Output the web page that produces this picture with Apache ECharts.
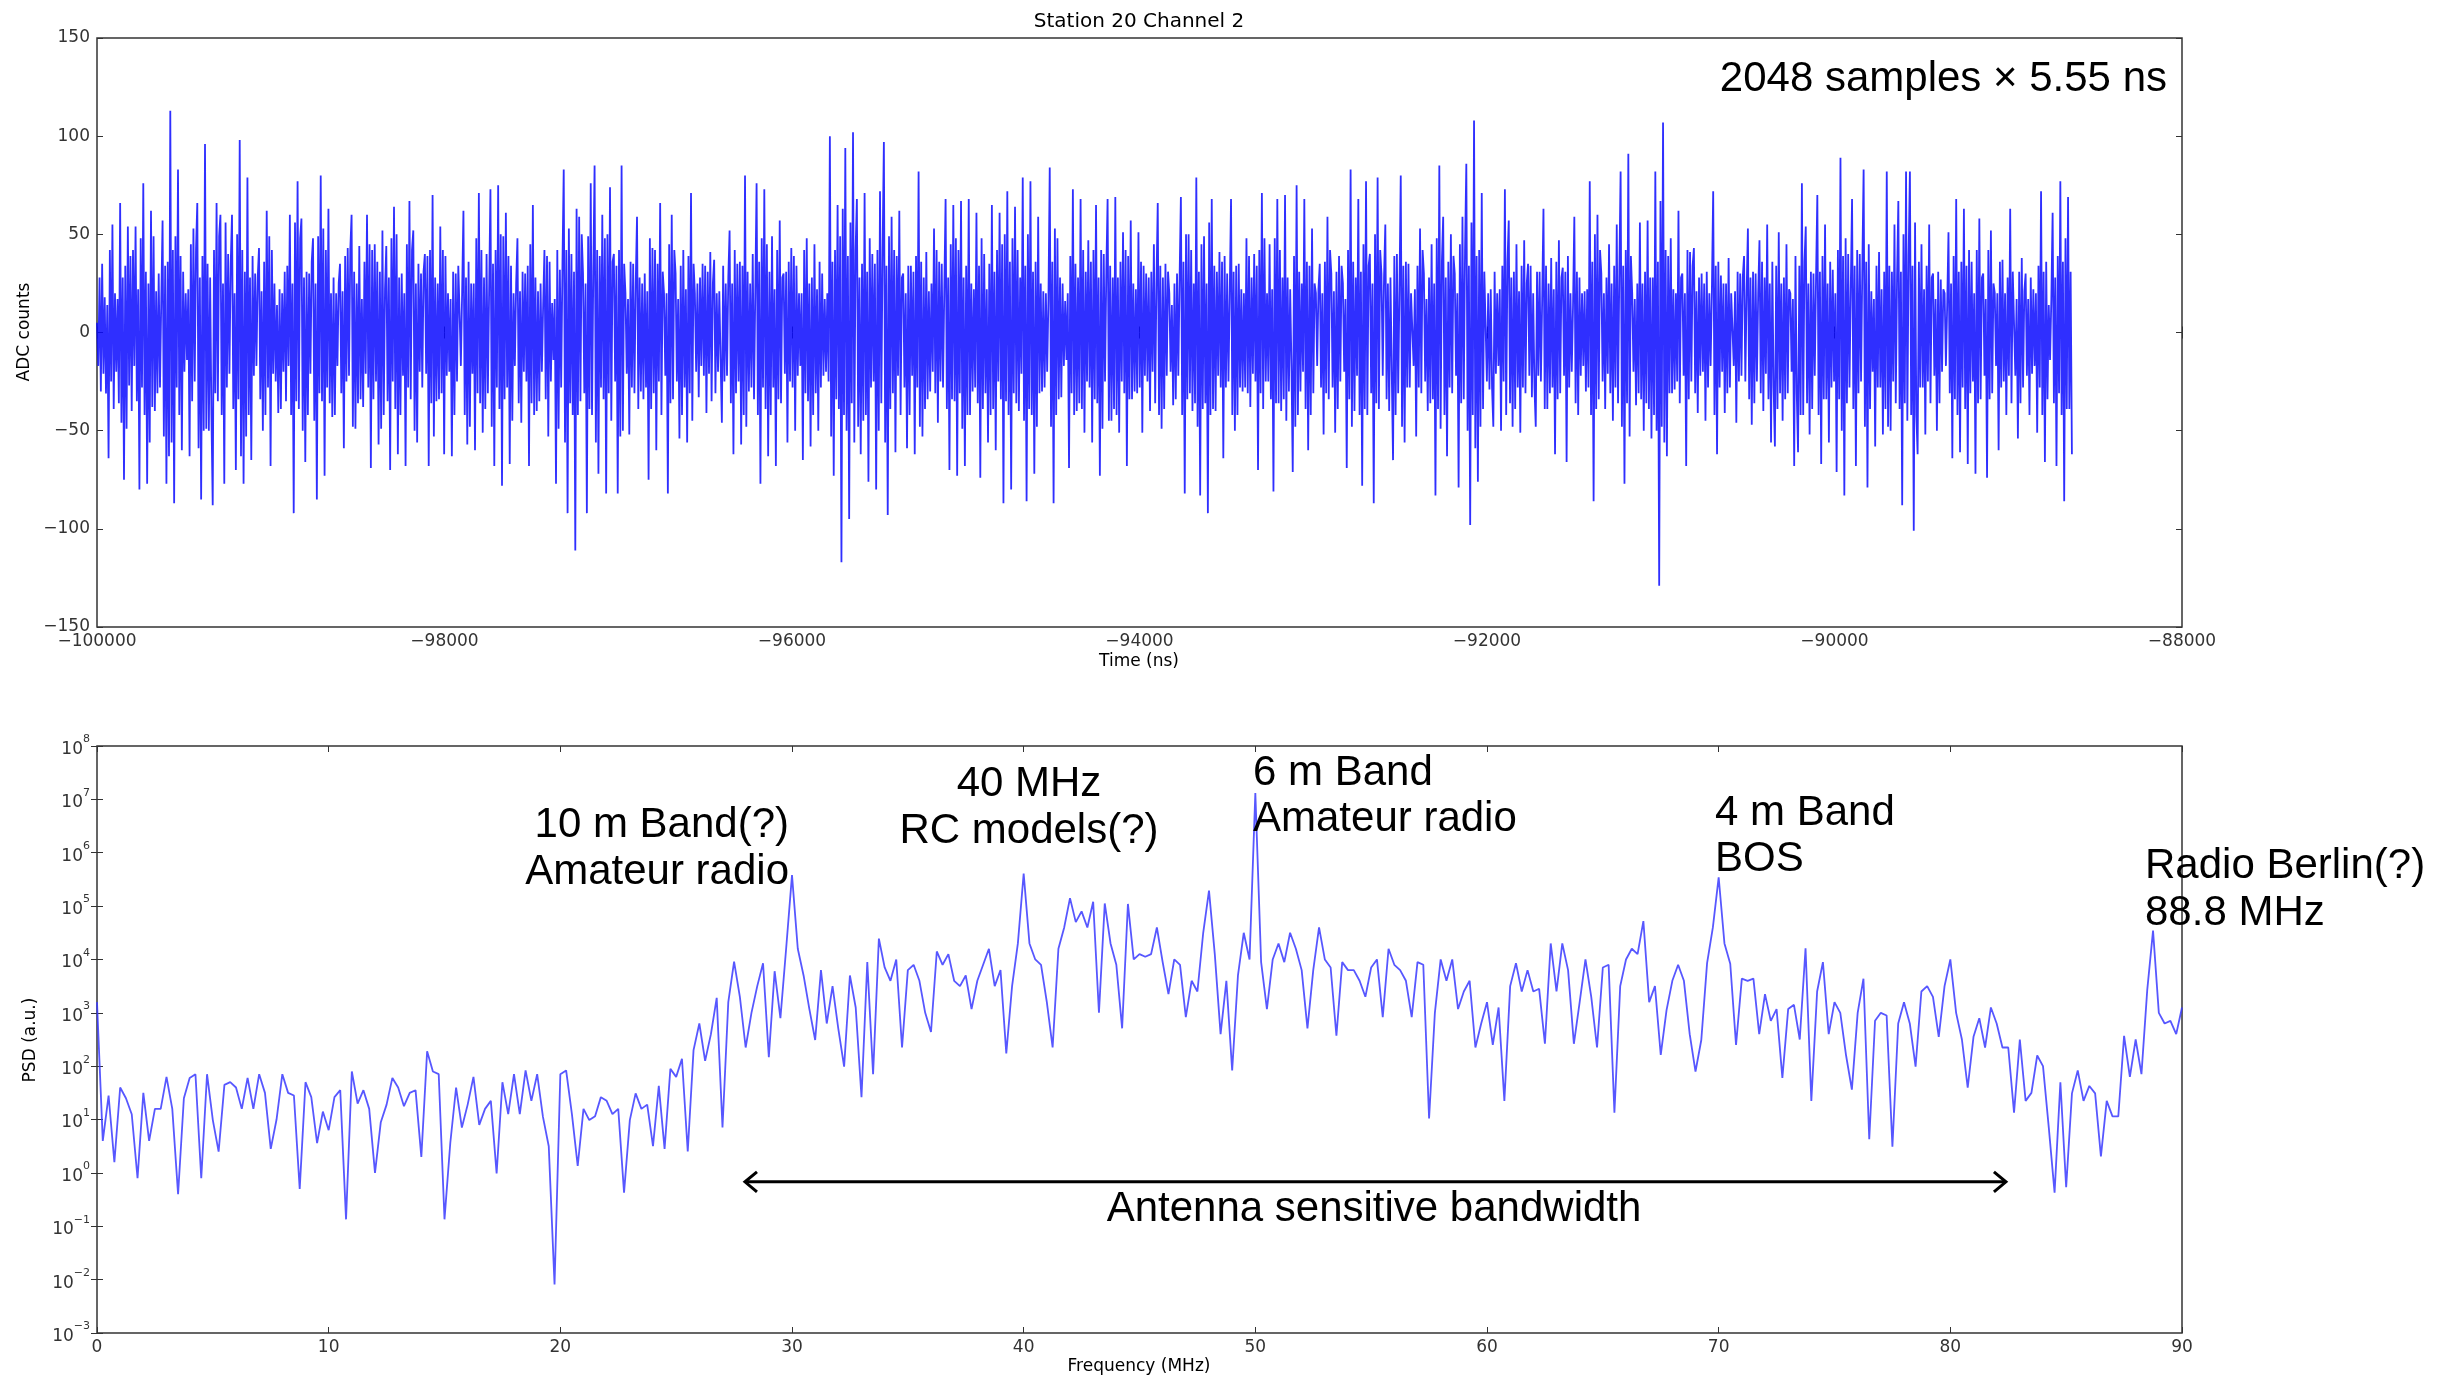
<!DOCTYPE html>
<html><head><meta charset="utf-8">
<script src="https://cdn.jsdelivr.net/npm/echarts@6/dist/echarts.min.js"></script>
<style>html,body{margin:0;padding:0;background:#fff}#c{width:2453px;height:1380px}</style>
</head><body><div id="c"></div>
<script>
// ---------------- DATA ----------------
const chartTitle = 'Station 20 Channel 2';
const timeStart = -100000;        // ns
const timeStep = 7.4;             // ns between plotted samples
const timeTicks = { min: -100000, max: -88000, step: 2000 };
const adcTicks = { min: -150, max: 150, step: 50 };
const adcCounts = [
 5,-17,28,-30,35,-21,18,-31,14,-64,42,-25,55,-39,20,-20,17,-36,66,-46,28,-75,34,-49,54,-27,39,-40,42,-17,
 54,-35,22,-80,48,-28,76,-42,31,-77,25,-56,62,-38,49,-40,21,-31,30,-28,17,57,-53,34,-77,36,-63,113,-56,42,
 -87,49,-28,83,-42,39,-60,31,-20,20,-14,22,-63,45,-35,53,-25,42,66,-59,28,-85,39,-50,96,-49,35,-50,28,-42,
 -88,42,-31,66,-35,49,60,-42,25,-77,56,-28,40,-21,35,60,-39,20,-70,50,-34,98,-63,42,-77,31,-53,79,-42,28,
 -65,39,-22,30,-17,28,43,-34,21,-50,36,-42,62,-28,49,-68,42,-21,25,-25,14,-41,22,-39,20,-20,31,-35,34,-17,
 60,-42,25,-92,56,-35,77,-39,48,58,-50,28,-66,31,-42,30,-21,36,48,-45,25,-85,49,-31,80,-35,53,-73,42,-28,
 63,-36,20,-43,28,-42,20,-17,25,35,-31,21,-59,39,-25,43,-22,42,60,-48,31,-49,25,-36,44,-34,17,-38,36,-21,
 60,-28,45,-69,42,-34,45,-25,36,-57,31,-49,52,-42,22,44,-35,28,-70,48,-25,64,-39,50,-62,28,-42,30,-22,20,
 -68,45,-28,67,-34,42,52,-50,25,-56,35,-20,30,-28,31,40,-21,39,-68,42,-36,70,-53,28,-35,25,-34,54,-31,42,
 -62,39,-22,20,-20,17,-63,31,-42,30,-25,34,10,-17,21,62,-42,28,-57,36,-48,25,-21,25,-60,48,-31,71,-36,42,
 -51,28,-39,40,-31,22,73,-48,35,-68,42,-28,75,-39,50,-78,49,-34,61,-28,39,-67,34,-45,20,-17,25,48,-36,21,
 -46,31,-20,30,-25,34,-68,45,-36,65,-42,28,-40,21,-35,25,-20,14,42,-34,39,-53,36,-25,15,-14,17,-77,42,-49,
 32,-28,34,83,-56,42,-92,53,-36,40,-42,31,-111,63,-42,59,-35,50,30,-31,25,-92,49,-39,76,-42,31,85,-56,42,
 -72,39,-28,60,-34,48,-82,50,-31,74,-45,36,40,-25,34,-82,42,-53,85,-50,35,20,-21,17,-52,36,-28,35,-31,25,
 59,-39,28,-30,25,-34,30,-28,21,-75,48,-39,43,-31,42,-60,35,-25,66,-42,31,20,-22,20,-82,45,-36,60,-34,42,
 30,-25,17,-54,34,-42,42,-28,22,-56,39,-31,71,-45,35,20,-20,25,-33,28,-17,35,-22,34,-41,31,-21,41,-35,25,
 37,-31,20,-20,21,-14,-46,34,-25,25,-22,28,52,-36,25,-62,42,-31,35,-25,36,-57,34,-42,80,-48,31,-30,25,-28,
 40,-34,21,76,-42,36,-77,48,-28,73,-39,45,-63,31,-42,49,-28,22,-68,42,-34,57,-36,28,30,-21,31,-56,36,-25,
 43,-28,39,-50,34,-22,20,-17,20,-65,42,-31,48,-35,25,-58,28,-42,45,-31,22,-50,36,-28,30,-22,17,-20,20,-25,
 100,-53,36,-73,42,-34,65,-39,49,-117,63,-42,94,-50,39,-95,56,-36,102,-56,42,68,-48,28,-62,35,-45,71,-42,31,
 -76,48,-28,40,-25,35,-80,42,-50,72,-36,42,97,-56,34,-93,49,-39,59,-31,42,-61,39,-22,62,-42,28,30,-28,20,
 -59,34,-42,34,-22,31,-62,39,-28,82,-48,36,-53,28,-39,41,-34,21,-30,25,-20,53,-31,42,-46,36,-25,35,-28,22,
 68,-39,28,-70,45,-34,65,-35,48,-73,42,-31,67,-49,28,-68,34,-42,68,-42,25,-30,22,-28,61,-36,34,-74,48,-39,
 40,-31,22,-56,35,-42,65,-39,31,-60,42,-25,61,-34,45,-87,50,-35,72,-42,36,-80,48,-31,64,-36,42,-40,28,-21,
 79,-45,34,-86,50,-39,77,-42,31,-72,36,-48,59,-31,25,-30,21,-28,20,-20,17,84,-48,36,-87,53,-42,48,-34,28,
 -33,25,-17,16,-14,20,-69,39,-31,73,-42,35,-40,28,-36,68,-39,42,-51,31,-25,47,-28,36,-56,42,-34,65,-36,28,
 -73,42,-49,40,-25,31,68,-45,34,-45,28,-39,69,-42,28,-51,36,-25,51,-31,42,-68,39,-34,57,-34,25,-30,22,-31,
 51,-28,36,-51,34,-22,30,-25,28,-40,31,-20,45,-36,25,66,-42,34,-49,28,-39,35,-22,31,20,-20,14,-37,25,-34,
 30,-22,28,69,-42,36,-82,50,-34,50,-31,42,-40,25,-36,79,-48,31,-83,45,-39,49,-36,25,-92,56,-42,68,-39,34,
 -40,31,-22,41,-28,36,-64,39,-28,30,-25,20,68,-42,31,-50,34,-42,35,-28,22,-30,20,-28,48,-31,39,-38,28,-21,
 40,-25,34,-70,42,-31,71,-39,48,-25,20,-25,45,-34,22,-81,48,-36,68,-36,42,-40,28,-34,70,-45,28,-30,22,-17,
 -71,39,-48,75,-42,31,-30,25,-20,68,-39,36,-60,34,-42,53,-31,25,20,-17,22,35,-28,20,-52,36,-31,59,-34,42,
 30,-28,21,-51,31,-39,39,-25,34,25,-20,17,-69,42,-34,83,-48,36,-40,28,-22,68,-42,31,-78,45,-39,77,-42,34,
 40,-31,25,-87,50,-36,79,-39,42,30,-22,28,55,-34,25,-40,28,-20,-65,39,-42,40,-31,22,80,-48,34,-56,36,-28,
 35,-28,20,20,-17,22,-53,34,-28,53,-31,42,30,-25,17,-40,28,-36,45,-34,25,-83,48,-39,85,-49,36,59,-42,28,
 -63,36,-28,50,-31,39,30,-22,20,-79,45,-36,59,-34,42,86,-50,34,-98,56,-42,108,-59,39,-76,42,-48,71,-39,31,
 32,-25,20,-29,22,-28,-48,31,-21,20,-17,22,-50,34,-25,73,-42,36,57,-36,28,-48,31,-39,45,-28,21,-51,34,-28,
 47,-31,25,35,-22,34,-33,20,-28,-48,31,-22,31,-25,17,63,-39,34,-39,25,-31,38,-28,22,-62,36,-34,47,-31,28,
 33,-22,31,-66,39,-28,20,-20,14,59,-36,31,-42,28,-22,20,-17,21,-30,22,-28,77,-42,36,-86,50,-39,60,-34,42,
 30,-25,20,-39,28,-21,45,-31,25,-45,34,-28,55,-36,31,82,-48,34,-77,42,-36,91,-53,39,20,-20,17,-37,25,-31,
 56,-34,25,-50,31,-36,57,-39,28,-54,28,-42,82,-50,36,-129,67,-48,107,-56,42,-63,39,-31,48,-31,22,-29,20,-25,
 62,-36,28,30,-22,20,-68,42,-34,41,-25,34,43,-31,21,-41,28,-22,30,-20,25,-45,31,-28,20,-17,22,72,-42,34,
 -62,36,-28,29,-20,25,-41,25,-31,38,-28,20,20,-17,21,-46,31,-25,30,-22,28,39,-25,20,53,-34,28,-47,31,-36,
 30,-25,20,47,-31,36,-40,28,-21,55,-34,25,-56,36,-28,-58,34,-39,51,-31,25,-45,28,-34,45,-31,22,20,-20,17,
 -68,39,-31,-61,34,-42,76,-42,36,54,-36,25,-52,31,-39,30,-22,28,70,-42,31,-67,39,-34,55,-34,25,-56,36,-28,
 32,-25,20,-71,42,-34,89,-50,39,-83,48,-36,40,-28,22,68,-39,34,-68,42,-31,40,-25,34,83,-48,36,-79,45,-39,
 21,-20,17,-58,34,-28,41,-28,22,-52,31,-39,82,-48,34,-50,31,-25,55,-36,28,67,-39,31,-88,50,-36,82,-45,39,
 82,-42,34,-101,56,-42,-62,36,-28,45,-28,22,-52,34,-25,55,-36,28,30,-22,17,-50,31,-36,27,-20,22,20,-17,14,
 51,-31,25,-64,39,-34,68,-42,31,-61,36,-28,63,-39,34,-67,42,-31,36,-25,20,-72,42,-36,58,-34,28,30,-22,17,
 -74,42,-34,52,-31,25,20,-17,20,-60,36,-28,37,-25,20,-42,28,-22,63,-36,31,30,-22,17,-54,31,-36,38,-28,21,
 30,-22,17,-42,28,-21,22,-17,20,-51,34,-28,72,-42,31,-66,36,-34,14,-14,17,61,-36,28,-68,39,-31,77,-42,36,
 -86,48,-39,69,-39,31,-62
];
const freqStep = 0.25;            // MHz between plotted PSD points
const freqTicks = { min: 0, max: 90, step: 10 };
const psdTicks = { min: 1e-3, max: 1e8 };
// PSD read as powers of ten (log10 of the a.u. value)
const psdLog10 = [
 3.2,0.6,1.45,0.2,1.6,1.4,1.1,-0.1,1.5,0.6,
 1.2,1.2,1.8,1.2,-0.4,1.4,1.78,1.85,-0.1,1.85,
 0.99,0.4,1.65,1.7,1.6,1.2,1.78,1.2,1.85,1.5,
 0.45,1.0,1.85,1.5,1.45,-0.3,1.7,1.42,0.56,1.15,
 0.8,1.42,1.55,-0.87,1.9,1.3,1.55,1.2,0.0,0.95,
 1.28,1.78,1.6,1.25,1.5,1.55,0.3,2.28,1.9,1.85,
 -0.87,0.56,1.6,0.85,1.28,1.8,0.9,1.2,1.35,-0.01,
 1.7,1.1,1.85,1.1,1.92,1.35,1.85,1.05,0.5,-2.09,
 1.85,1.92,1.1,0.13,1.2,0.99,1.06,1.42,1.35,1.1,
 1.2,-0.37,0.99,1.49,1.2,1.28,0.5,1.63,0.45,1.95,
 1.8,2.14,0.4,2.3,2.8,2.1,2.6,3.28,0.85,3.2,
 3.96,3.3,2.35,3.0,3.5,3.93,2.17,3.78,2.9,4.22,
 5.58,4.2,3.7,3.07,2.49,3.8,2.8,3.5,2.7,1.99,
 3.7,3.1,1.42,3.95,1.85,4.39,3.85,3.6,4.0,2.35,
 3.8,3.9,3.6,3.0,2.64,4.15,3.9,4.1,3.6,3.5,
 3.7,3.07,3.6,3.9,4.2,3.5,3.8,2.24,3.5,4.3,
 5.61,4.3,4.0,3.9,3.2,2.35,4.2,4.6,5.15,4.7,
 4.9,4.6,5.08,3.0,5.05,4.3,3.9,2.71,5.04,4.0,
 4.1,4.05,4.1,4.6,3.95,3.35,4.0,3.9,2.92,3.6,
 3.4,4.5,5.29,4.1,2.6,3.6,1.92,3.7,4.5,4.0,
 7.12,3.95,3.07,4.0,4.3,3.95,4.5,4.2,3.8,2.71,
 3.8,4.6,4.0,3.85,2.57,3.95,3.8,3.8,3.6,3.3,
 3.85,4.0,2.92,4.2,3.9,3.8,3.6,2.92,3.95,3.9,
 1.02,3.0,4.0,3.6,4.0,3.07,3.4,3.6,2.35,2.8,
 3.2,2.4,3.1,1.35,3.5,3.93,3.4,3.8,3.4,3.45,
 2.42,4.3,3.4,4.3,3.8,2.42,3.2,4.0,3.3,2.35,
 3.85,3.9,1.13,3.5,4.0,4.2,4.1,4.72,3.2,3.5,
 2.21,3.05,3.6,3.9,3.6,2.6,1.9,2.49,3.93,4.6,
 5.54,4.3,3.92,2.4,3.64,3.6,3.64,2.6,3.35,2.85,
 3.07,1.78,3.07,3.15,2.5,4.21,1.35,3.4,3.95,2.6,
 3.2,3.0,2.2,1.56,3.0,3.64,0.63,2.85,3.0,2.95,
 0.49,2.8,3.2,2.8,1.99,3.4,3.5,3.3,2.55,3.5,
 4.0,3.0,2.5,1.6,2.55,2.9,2.35,3.1,2.8,2.35,
 2.35,1.13,2.5,1.35,1.5,2.2,2.0,0.85,-0.37,1.7,
 -0.27,1.49,1.92,1.35,1.63,1.49,0.31,1.35,1.06,1.06,
 2.57,1.8,2.5,1.85,3.43,4.54,3.0,2.8,2.85,2.6,
 3.1
];
const bandwidthArrow = { from: 27.97, to: 82.4, level: 0.68 }; // MHz, PSD
const axisNames = ['ADC counts', 'Time (ns)', 'PSD (a.u.)', 'Frequency (MHz)'];
const noteSamples = '2048 samples \u00d7 5.55 ns';
const noteBand10 = ['10 m Band(?)', 'Amateur radio'];
const noteRC = ['40 MHz', 'RC models(?)'];
const noteBand6 = ['6 m Band', 'Amateur radio'];
const noteBand4 = ['4 m Band', 'BOS'];
const noteBerlin = ['Radio Berlin(?)', '88.8 MHz'];
const noteBandwidth = 'Antenna sensitive bandwidth';

// ---------------- CHART ----------------
const chart = echarts.init(document.getElementById('c'), null, { renderer: 'canvas' });
const timeData = adcCounts.map((v, i) => [timeStart + i * timeStep, v]);
const psdData = psdLog10.map((e, j) => [j * freqStep, Math.pow(10, e)]);

const TF = 'DejaVu Sans';
const AF = 'Liberation Sans';
const tickColor = '#333';
const minus = v => String(v).replace('-', '\u2212');
const tickStyle = { inside: true, length: 6, lineStyle: { color: tickColor, width: 1 } };
const lblStyle = { fontFamily: TF, fontSize: 17, color: '#333' };

function xAx(grid, t, pos, labels) {
  return {
    gridIndex: grid, type: 'value', min: t.min, max: t.max, interval: t.step, position: pos,
    axisLine: { show: false }, axisTick: tickStyle, splitLine: { show: false },
    axisLabel: Object.assign({ show: labels, margin: 6, formatter: minus }, lblStyle)
  };
}
function yAx(grid, t, pos, labels) {
  return {
    gridIndex: grid, type: 'value', min: t.min, max: t.max, interval: t.step, position: pos,
    axisLine: { show: false }, axisTick: tickStyle, splitLine: { show: false },
    axisLabel: Object.assign({ show: labels, margin: 7, formatter: minus }, lblStyle)
  };
}
function logAx(grid, pos, labels) {
  return {
    gridIndex: grid, type: 'log', logBase: 10, min: psdTicks.min, max: psdTicks.max,
    interval: 1, splitNumber: 11, position: pos,
    axisLine: { show: false }, axisTick: tickStyle, splitLine: { show: false },
    axisLabel: {
      show: labels, margin: 7,
      formatter: v => '{b|10}{s|' + minus(Math.round(Math.log10(v))) + '}',
      rich: {
        b: { fontFamily: TF, fontSize: 17, color: '#333', verticalAlign: 'bottom', lineHeight: 24 },
        s: { fontFamily: TF, fontSize: 11, color: '#333', verticalAlign: 'top', lineHeight: 24 }
      }
    }
  };
}

const option = {
  animation: false,
  backgroundColor: '#fff',
  grid: [
    { left: 97, top: 38, width: 2085, height: 589, show: true, borderColor: '#333', borderWidth: 1.5, backgroundColor: 'transparent' },
    { left: 97, top: 746, width: 2085, height: 587, show: true, borderColor: '#333', borderWidth: 1.5, backgroundColor: 'transparent' }
  ],
  xAxis: [
    xAx(0, timeTicks, 'bottom', true), xAx(0, timeTicks, 'top', false),
    xAx(1, freqTicks, 'bottom', true), xAx(1, freqTicks, 'top', false)
  ],
  yAxis: [
    yAx(0, adcTicks, 'left', true), yAx(0, adcTicks, 'right', false),
    logAx(1, 'left', true), logAx(1, 'right', false)
  ],
  series: [
    { type: 'line', xAxisIndex: 0, yAxisIndex: 0, data: timeData, showSymbol: false, sampling: null,
      lineStyle: { color: '#0a0aff', width: 1.8, opacity: 0.85, join: 'bevel' }, z: 3 },
    { type: 'line', xAxisIndex: 2, yAxisIndex: 2, data: psdData, showSymbol: false,
      lineStyle: { color: '#3a3aff', width: 1.8, opacity: 0.85 }, z: 3 }
  ]
};
chart.setOption(option);

// ---------------- ANNOTATIONS ----------------
function txt(s, x, y, size, align, font, rot) {
  return {
    type: 'text', x: x, y: y, rotation: rot || 0, z: 10,
    style: { text: s, fill: '#000', font: size + 'px "' + font + '"', align: align, verticalAlign: 'middle',
             textAlign: align, textVerticalAlign: 'middle' }
  };
}
const g = [];
g.push(txt(chartTitle, 1139, 22, 20, 'center', TF));
g.push(txt(axisNames[0], 25, 332, 17, 'center', TF, Math.PI / 2));
g.push(txt(axisNames[1], 1139, 662, 17, 'center', TF));
g.push(txt(axisNames[2], 31, 1040, 17, 'center', TF, Math.PI / 2));
g.push(txt(axisNames[3], 1139, 1367, 17, 'center', TF));
const AS = 42;
g.push(txt(noteSamples, 2167, 79, AS, 'right', AF));
g.push(txt(noteBand10[0], 789, 825, AS, 'right', AF));
g.push(txt(noteBand10[1], 789, 872, AS, 'right', AF));
g.push(txt(noteRC[0], 1029, 784, AS, 'center', AF));
g.push(txt(noteRC[1], 1029, 831, AS, 'center', AF));
g.push(txt(noteBand6[0], 1253, 773, AS, 'left', AF));
g.push(txt(noteBand6[1], 1253, 819, AS, 'left', AF));
g.push(txt(noteBand4[0], 1715, 813, AS, 'left', AF));
g.push(txt(noteBand4[1], 1715, 859, AS, 'left', AF));
g.push(txt(noteBerlin[0], 2145, 866, AS, 'left', AF));
g.push(txt(noteBerlin[1], 2145, 913, AS, 'left', AF));
g.push(txt(noteBandwidth, 1374, 1209, AS, 'center', AF));

const pA = chart.convertToPixel({ xAxisIndex: 2, yAxisIndex: 2 }, [bandwidthArrow.from, bandwidthArrow.level]);
const pB = chart.convertToPixel({ xAxisIndex: 2, yAxisIndex: 2 }, [bandwidthArrow.to, bandwidthArrow.level]);
const arrowStyle = { stroke: '#000', lineWidth: 3, fill: null, lineJoin: 'miter' };
g.push({ type: 'line', z: 10, shape: { x1: pA[0] + 1, y1: pA[1], x2: pB[0] - 1, y2: pB[1] }, style: arrowStyle });
g.push({ type: 'polyline', z: 10, shape: { points: [[pA[0] + 12, pA[1] - 10], [pA[0], pA[1]], [pA[0] + 12, pA[1] + 10]] }, style: arrowStyle });
g.push({ type: 'polyline', z: 10, shape: { points: [[pB[0] - 12, pB[1] - 10], [pB[0], pB[1]], [pB[0] - 12, pB[1] + 10]] }, style: arrowStyle });

chart.setOption({ graphic: g });
</script>
</body></html>
